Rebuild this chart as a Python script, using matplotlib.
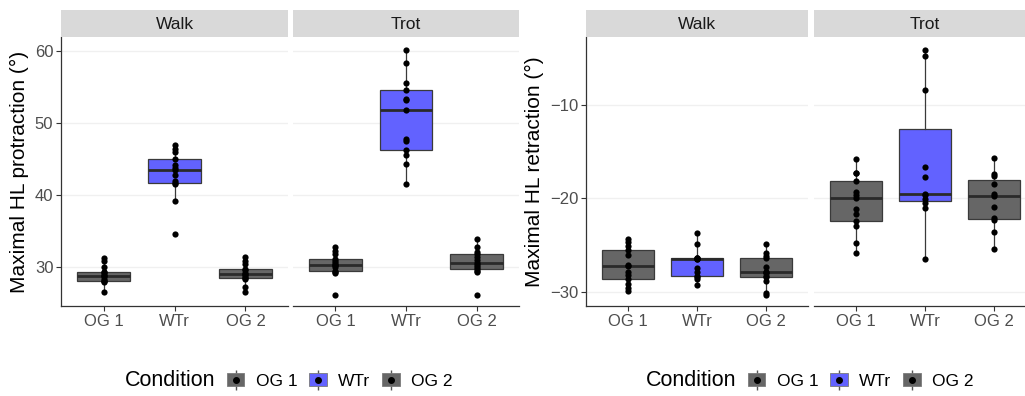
import matplotlib
matplotlib.use('Agg')
import matplotlib.pyplot as plt
from matplotlib.patches import Patch
from matplotlib.lines import Line2D
from matplotlib.legend_handler import HandlerTuple
import numpy as np

plt.rcParams['font.family'] = ['Liberation Sans', 'DejaVu Sans']

conditions = ['OG 1', 'WTr', 'OG 2']
gaits = ['Walk', 'Trot']

# Maximal HL protraction (deg)
prot_walk_og1 = [26.6, 27.9, 28.0, 28.06, 28.4, 28.7, 28.8, 29.1, 29.3, 29.35, 30.0, 30.8, 31.25]
prot_walk_wtr = [34.56, 39.17, 41.48, 41.62, 41.94, 42.8, 43.42, 43.79, 44.11, 44.94, 45.95, 46.42, 46.87]
prot_walk_og2 = [26.55, 27.19, 28.3, 28.44, 28.66, 28.89, 29.1, 29.21, 29.59, 29.72, 30.41, 30.87, 31.34]
prot_trot_og1 = [26.13, 29.13, 29.3, 29.5, 29.96, 30.28, 30.35, 30.6, 30.87, 31.1, 31.75, 32.25, 32.72]
prot_trot_wtr = [41.58, 44.25, 45.59, 46.28, 47.43, 47.8, 51.81, 53.1, 53.33, 54.58, 55.49, 58.26, 60.1]
prot_trot_og2 = [26.13, 29.27, 29.5, 29.72, 29.96, 30.28, 30.5, 30.97, 31.42, 31.8, 32.03, 32.81, 33.87]

# Maximal HL retraction (deg)
retr_walk_og1 = [-29.9, -29.65, -29.19, -28.68, -28.22, -27.87, -27.26, -27.15, -26.08, -25.54, -25.11, -24.72, -24.39]
retr_walk_wtr = [-29.29, -28.68, -28.4, -28.29, -27.87, -27.5, -26.5, -26.47, -26.45, -26.43, -26.4, -24.9, -23.75]
retr_walk_og2 = [-30.36, -30.12, -28.83, -28.47, -28.33, -28.0, -27.93, -27.87, -27.33, -26.36, -26.18, -25.9, -24.93]
retr_trot_og1 = [-25.83, -24.82, -22.97, -22.4, -21.68, -21.18, -19.93, -19.65, -19.29, -18.11, -17.32, -17.3, -15.79]
retr_trot_wtr = [-26.54, -21.07, -20.47, -20.1, -19.65, -19.57, -17.68, -16.68, -8.39, -4.75, -4.03]
retr_trot_og2 = [-25.47, -23.58, -22.3, -22.14, -20.9, -19.75, -19.54, -18.47, -17.6, -17.4, -15.71]

prot_ticks = [30, 40, 50, 60]
retr_ticks = [-30, -20, -10]

W, H = 1025, 396
fig = plt.figure(figsize=(W / 100, H / 100), dpi=100)

fills = ['#666666', '#6262FF', '#666666']
edge = '#3A3A3A'
tick_col = '#4D4D4D'


def px_axes(x0, x1, y0, y1):
    return fig.add_axes([x0 / W, 1 - y1 / H, (x1 - x0) / W, (y1 - y0) / H])


def draw_panel(ax, groups, ylim, yticks, show_left):
    bp = ax.boxplot(groups, positions=[1, 2, 3], widths=0.75, patch_artist=True,
                    showfliers=False, showcaps=False, whis=1.5,
                    boxprops=dict(edgecolor=edge, linewidth=0.9),
                    whiskerprops=dict(color=edge, linewidth=0.9),
                    medianprops=dict(color='#2A2A2A', linewidth=2.0))
    for patch, c in zip(bp['boxes'], fills):
        patch.set_facecolor(c)
        patch.set_zorder(2)
    for i, g in enumerate(groups):
        ax.scatter(np.full(len(g), i + 1), g, s=20, color='black', zorder=4, linewidths=0)
    ax.set_xlim(0.4, 3.6)
    ax.set_ylim(*ylim)
    ax.set_yticks(yticks)
    ax.set_xticks([1, 2, 3])
    ax.set_xticklabels(conditions)
    ax.grid(axis='y', color='#F0F0F0', linewidth=1.0, zorder=0)
    ax.set_axisbelow(True)
    for s in ['top', 'right']:
        ax.spines[s].set_visible(False)
    ax.spines['bottom'].set_color('#333333')
    ax.spines['bottom'].set_linewidth(0.9)
    ax.spines['left'].set_color('#333333')
    ax.spines['left'].set_linewidth(0.9)
    ax.tick_params(axis='both', colors='#333333', labelcolor=tick_col, labelsize=12,
                   length=3.5, width=0.8, pad=2)
    if not show_left:
        ax.spines['left'].set_visible(False)
        ax.tick_params(axis='y', left=False, labelleft=False)


def draw_strip(x0, x1, label):
    sa = px_axes(x0, x1, 10, 37)
    sa.set_facecolor('#D9D9D9')
    sa.set_xticks([])
    sa.set_yticks([])
    for s in sa.spines.values():
        s.set_visible(False)
    sa.text(0.5, 0.48, label, ha='center', va='center', fontsize=12.5, color='#1A1A1A',
            transform=sa.transAxes)


# Left figure: protraction
prot_ylim = (24.6, 61.9)
a1 = px_axes(61, 288, 37, 306)
draw_panel(a1, [prot_walk_og1, prot_walk_wtr, prot_walk_og2], prot_ylim, prot_ticks, True)
a1.set_ylabel('Maximal HL protraction (°)', fontsize=15, color='black', labelpad=4)
draw_strip(61, 288, gaits[0])
a2 = px_axes(293, 519, 37, 306)
draw_panel(a2, [prot_trot_og1, prot_trot_wtr, prot_trot_og2], prot_ylim, prot_ticks, False)
draw_strip(293, 519, gaits[1])

# Right figure: retraction
retr_ylim = (-31.55, -2.68)
a3 = px_axes(586, 808, 37, 306)
draw_panel(a3, [retr_walk_og1, retr_walk_wtr, retr_walk_og2], retr_ylim, retr_ticks, True)
a3.set_ylabel('Maximal HL retraction (°)', fontsize=15, color='black', labelpad=4)
draw_strip(586, 808, gaits[0])
a4 = px_axes(814, 1036, 37, 306)
draw_panel(a4, [retr_trot_og1, retr_trot_wtr, retr_trot_og2], retr_ylim, retr_ticks, False)
draw_strip(814, 1036, gaits[1])


def legend_handles():
    hs = []
    for c in fills:
        box = Patch(facecolor=c, edgecolor='#7A7A7A', linewidth=0.6)
        vline = Line2D([], [], marker='|', color='#555555', markersize=15, linestyle='None')
        dot = Line2D([], [], marker='o', color='black', markersize=4, linestyle='None')
        hs.append((vline, box, dot))
    return hs


for title_x, leg_x in [(215, 227), (736, 748)]:
    fig.text(title_x / W, 1 - 381 / H, 'Condition', ha='right', va='center', fontsize=15.5,
             color='black')
    leg = fig.legend(legend_handles(), conditions, loc='center left',
                     bbox_to_anchor=(leg_x / W, 1 - 381 / H), ncol=3, frameon=False,
                     fontsize=12.5, handlelength=1.0, handleheight=0.8, handletextpad=0.65,
                     columnspacing=0.7, borderpad=0, borderaxespad=0,
                     handler_map={tuple: HandlerTuple(ndivide=1)})

fig.savefig('out.png', dpi=100)
